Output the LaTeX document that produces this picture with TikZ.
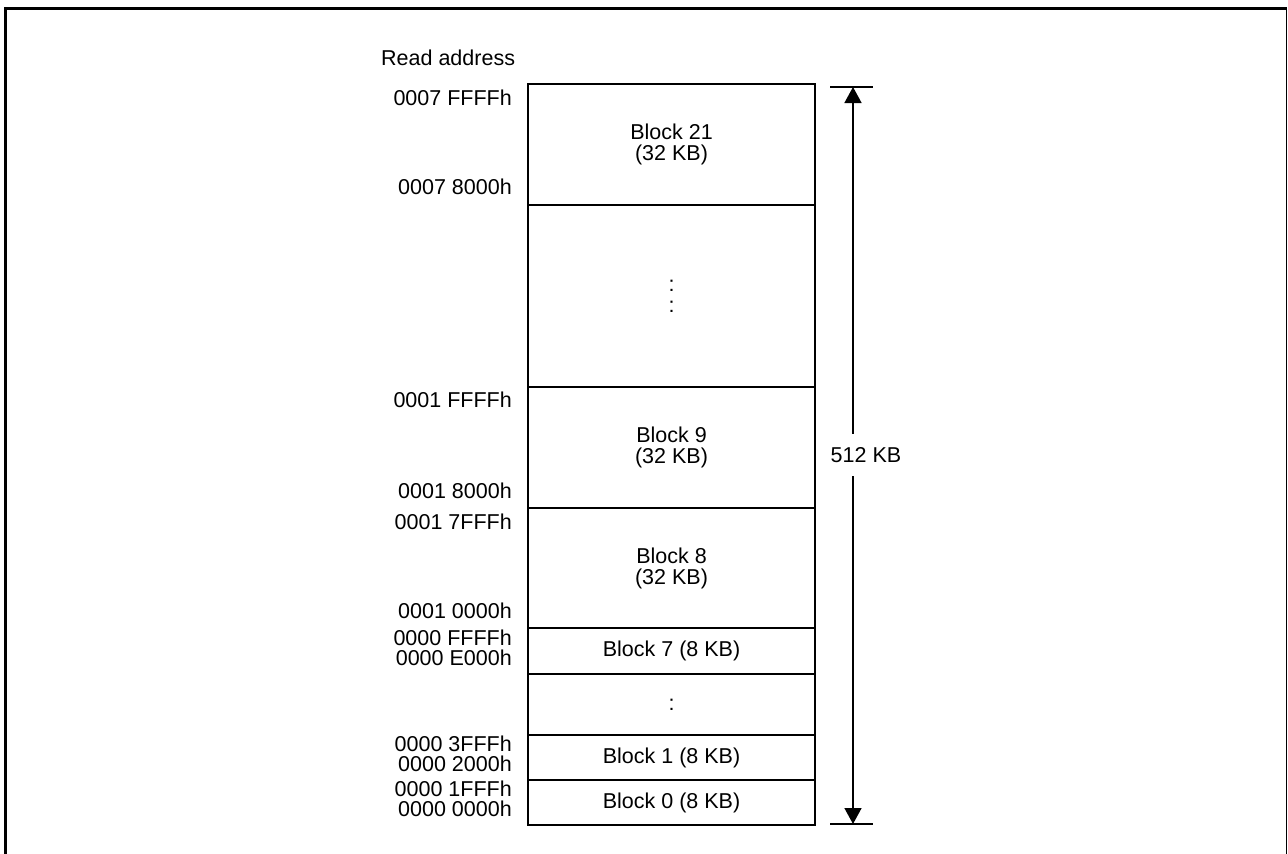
\documentclass[tikz,border=0pt]{standalone}
\usepackage{fontspec}
\setmainfont{Liberation Sans}
\usetikzlibrary{arrows.meta}
\begin{document}
\begin{tikzpicture}[x=1pt,y=-1pt,
  every node/.style={font=\fontsize{21.5}{21}\selectfont, inner sep=0pt},
  addr/.style={anchor=east},
  blk/.style={draw, line width=1.5pt, outer sep=0pt, minimum width=287pt, anchor=north, align=center},
  sizetip/.tip={Triangle[width=17pt,length=16pt]}]
\useasboundingbox (0,0) rectangle (1288,854);

% Frame
\draw[line width=3pt] (5.5,854) -- (5.5,8.5) -- (1287,8.5);
\draw[line width=1.5pt] (1286.5,8.5) -- (1286.5,854);

% Title
\node[anchor=west] (title) at (381,58) {Read address};

% Blocks
\node[blk, minimum height=121pt] (b21) at (671.5,84) {Block 21\\(32 KB)};
\node[blk, minimum height=182pt] (bdots) at (b21.south) {:\\:};
\node[blk, minimum height=121pt] (b9) at (bdots.south) {Block 9\\(32 KB)};
\node[blk, minimum height=120pt] (b8) at (b9.south) {Block 8\\(32 KB)};
\node[blk, minimum height=46pt] (b7) at (b8.south) {Block 7 (8 KB)};
\node[blk, minimum height=61pt] (bdotsb) at (b7.south) {:};
\node[blk, minimum height=45pt] (b1) at (bdotsb.south) {Block 1 (8 KB)};
\node[blk, minimum height=45pt] (b0) at (b1.south) {Block 0 (8 KB)};

% Addresses
\foreach \y/\t [count=\i] in {98/0007 FFFFh, 187/0007 8000h, 400/0001 FFFFh,
    491/0001 8000h, 522/0001 7FFFh, 611/0001 0000h, 638/0000 FFFFh,
    658/0000 E000h, 744/0000 3FFFh, 764/0000 2000h, 789/0000 1FFFh,
    809/0000 0000h}
  \node[addr] (a\i) at (512,\y) {\t};

% Size arrow
\coordinate (stop) at (853,87);
\coordinate (sbot) at (853,824);
\draw[line width=1.5pt] (830,87) -- (873,87);
\draw[line width=1.5pt] (830,824) -- (873,824);
\draw[sizetip-sizetip, line width=1.5pt] (stop) -- (sbot);
\node[fill=white, inner xsep=2pt, inner ysep=13pt] (size) at (866,455) {512 KB};

\end{tikzpicture}
\end{document}
